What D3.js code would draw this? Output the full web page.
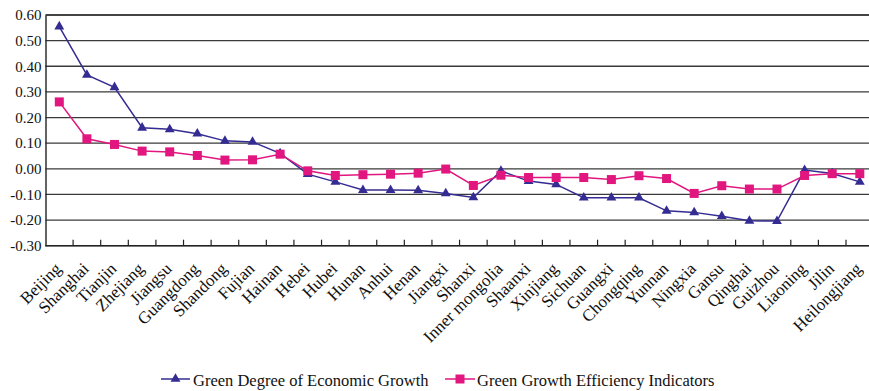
<!DOCTYPE html>
<html>
<head>
<meta charset="utf-8">
<script src="https://cdn.jsdelivr.net/npm/d3@7"></script>
<style>
  html, body { margin: 0; padding: 0; background: #fff; }
  svg { display: block; }
  text { font-family: "Liberation Serif", "DejaVu Serif", serif; fill: #111; }
</style>
</head>
<body>
<svg id="chart" width="869" height="391"></svg>
<script>
// Provinces, ordered as in the chart
const provinces = ["Beijing", "Shanghai", "Tianjin", "Zhejiang", "Jiangsu", "Guangdong", "Shandong",
  "Fujian", "Hainan", "Hebei", "Hubei", "Hunan", "Anhui", "Henan", "Jiangxi", "Shanxi",
  "Inner mongolia", "Shaanxi", "Xinjiang", "Sichuan", "Guangxi", "Chongqing", "Yunnan",
  "Ningxia", "Gansu", "Qinghai", "Guizhou", "Liaoning", "Jilin", "Heilongjiang"];

// Green Degree of Economic Growth
const greenDegree = [0.555, 0.366, 0.318, 0.160, 0.154, 0.137, 0.109, 0.105, 0.060, -0.021,
  -0.051, -0.083, -0.083, -0.084, -0.096, -0.112, -0.008, -0.048, -0.061, -0.113,
  -0.113, -0.113, -0.164, -0.170, -0.185, -0.203, -0.204, -0.005, -0.018, -0.051];

// Green Growth Efficiency Indicators
const efficiency = [0.261, 0.117, 0.095, 0.069, 0.066, 0.052, 0.034, 0.035, 0.057, -0.008,
  -0.026, -0.023, -0.021, -0.017, -0.001, -0.065, -0.025, -0.034, -0.034, -0.034,
  -0.042, -0.027, -0.038, -0.096, -0.066, -0.079, -0.079, -0.026, -0.019, -0.019];

const yTicks = [0.6, 0.5, 0.4, 0.3, 0.2, 0.1, 0.0, -0.1, -0.2, -0.3];

const seriesNames = ["Green Degree of Economic Growth", "Green Growth Efficiency Indicators"];
const blue = "#342c92";
const pink = "#e1167f";

const svg = d3.select("#chart");

const x = d3.scaleBand().domain(provinces).range([45.5, 873.6]).paddingInner(0).paddingOuter(0);
const y = d3.scaleLinear().domain([-0.3, 0.6]).range([245.7, 15]);
const cx = d => x(d) + x.bandwidth() / 2;

// Horizontal gridlines
svg.append("g")
  .selectAll("line")
  .data(yTicks)
  .join("line")
  .attr("x1", x.range()[0])
  .attr("x2", 869)
  .attr("y1", d => y(d))
  .attr("y2", d => y(d))
  .attr("stroke", d => d === 0.6 ? "#444" : "#3a3a3a")
  .attr("stroke-width", d => d === 0.6 ? 2 : 1.3);

// Y axis
const yAxis = svg.append("g")
  .attr("transform", `translate(${x.range()[0]},0)`)
  .call(d3.axisLeft(y).tickValues(yTicks).tickSize(0).tickPadding(4)
    .tickFormat(d3.format(".2f")));
yAxis.select(".domain").attr("stroke", "#222").attr("stroke-width", 1.4);
yAxis.selectAll("text")
  .style("font-family", "'Liberation Serif', serif")
  .style("font-size", "15px")
  .attr("fill", "#111")
  .text(d => d3.format(".2f")(d).replace("−", "-"));

// X axis at the bottom, ticks on band boundaries pointing into the plot
const xAxisY = y(-0.3);
svg.append("line")
  .attr("x1", x.range()[0]).attr("x2", 869)
  .attr("y1", xAxisY).attr("y2", xAxisY)
  .attr("stroke", "#222").attr("stroke-width", 1.6);
svg.append("g")
  .selectAll("line")
  .data(provinces.slice(1))
  .join("line")
  .attr("x1", d => x(d)).attr("x2", d => x(d))
  .attr("y1", xAxisY).attr("y2", xAxisY - 6)
  .attr("stroke", "#222").attr("stroke-width", 1.2);

// Rotated category labels
svg.append("g")
  .selectAll("text")
  .data(provinces)
  .join("text")
  .attr("transform", d => `translate(${cx(d) + 3},${xAxisY + 24}) rotate(-45)`)
  .attr("text-anchor", "end")
  .style("font-size", "17px")
  .text(d => d);

// Series lines and markers
const line = d3.line().x((d, i) => cx(provinces[i])).y(d => y(d));

svg.append("path").datum(greenDegree)
  .attr("d", line).attr("fill", "none")
  .attr("stroke", blue).attr("stroke-width", 1.5);
svg.append("path").datum(efficiency)
  .attr("d", line).attr("fill", "none")
  .attr("stroke", pink).attr("stroke-width", 1.5);

const tri = d3.symbol().type(d3.symbolTriangle).size(42);
svg.append("g")
  .selectAll("path")
  .data(greenDegree)
  .join("path")
  .attr("d", tri)
  .attr("transform", (d, i) => `translate(${cx(provinces[i])},${y(d)})`)
  .attr("fill", blue);

svg.append("g")
  .selectAll("rect")
  .data(efficiency)
  .join("rect")
  .attr("x", (d, i) => cx(provinces[i]) - 4.5)
  .attr("y", d => y(d) - 4.5)
  .attr("width", 9).attr("height", 9)
  .attr("fill", pink);

// Legend
const legend = [
  { name: seriesNames[0], color: blue, shape: "tri", x0: 161, x1: 190, tx: 193 },
  { name: seriesNames[1], color: pink, shape: "sq", x0: 445, x1: 475, tx: 477 }
];
const ly = 379;
legend.forEach(l => {
  const g = svg.append("g");
  g.append("line").attr("x1", l.x0).attr("x2", l.x1).attr("y1", ly).attr("y2", ly)
    .attr("stroke", l.color).attr("stroke-width", 1.5);
  const mx = (l.x0 + l.x1) / 2;
  if (l.shape === "tri") {
    g.append("path").attr("d", tri).attr("transform", `translate(${mx},${ly})`).attr("fill", l.color);
  } else {
    g.append("rect").attr("x", mx - 4.5).attr("y", ly - 4.5).attr("width", 9).attr("height", 9).attr("fill", l.color);
  }
  g.append("text").attr("x", l.tx).attr("y", 386).style("font-size", "16.5px").text(l.name);
});
</script>
</body>
</html>
